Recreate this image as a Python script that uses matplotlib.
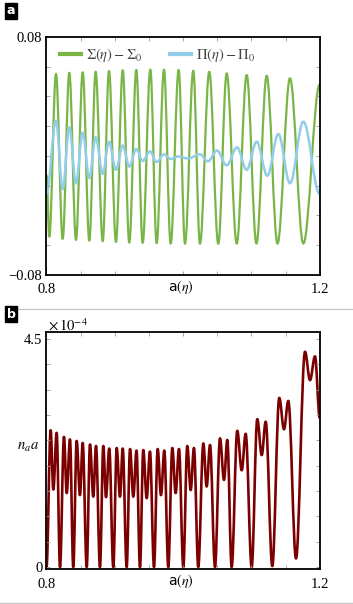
import matplotlib
matplotlib.use('Agg')
import matplotlib.pyplot as plt
from matplotlib.path import Path
from matplotlib.patches import PathPatch
from matplotlib.lines import Line2D

plt.rcParams['font.family'] = ['Liberation Serif', 'DejaVu Serif']
plt.rcParams['mathtext.fontset'] = 'stix'

# panel a: extrema (a, value)
sigma_a = [0.8000, 0.8041, 0.8139, 0.8237, 0.8334, 0.8432, 0.8530, 0.8627, 0.8720,
           0.8823, 0.8915, 0.9017, 0.9116, 0.9212, 0.9315, 0.9408, 0.9520, 0.9613,
           0.9720, 0.9818, 0.9935, 1.0028, 1.0149, 1.0247, 1.0383, 1.0515, 1.0638,
           1.0785, 1.0931, 1.1074, 1.1224, 1.1382, 1.1565, 1.1760, 1.2000]
sigma_v = [-0.013, -0.0542, 0.0550, -0.0557, 0.0558, -0.0564, 0.0561, -0.0569, 0.0565,
           -0.0573, 0.0570, -0.0578, 0.0575, -0.0582, 0.0577, -0.0584, 0.0579, -0.0586,
           0.0579, -0.0589, 0.0577, -0.0590, 0.0572, -0.0590, 0.0565, -0.0590, 0.0554,
           -0.0589, 0.0543, -0.0589, 0.0538, -0.0589, 0.0521, -0.0589, 0.0478]

pi_a = [0.8000, 0.8139, 0.8237, 0.8334, 0.8432, 0.8530, 0.8627, 0.8720, 0.8823,
        0.8915, 0.9017, 0.9116, 0.9212, 0.9315, 0.9408, 0.9515, 0.9610, 0.9720,
        0.9818, 0.9925, 1.0072, 1.0247, 1.0364, 1.0496, 1.0638, 1.0789, 1.0931,
        1.1077, 1.1233, 1.1394, 1.1565, 1.1760, 1.2000]
pi_v = [-0.0255, 0.0236, -0.0224, 0.0192, -0.0184, 0.0156, -0.0150, 0.0125, -0.0121,
        0.0095, -0.0094, 0.0069, -0.0072, 0.0046, -0.0034, 0.0030, -0.0041, 0.0010,
        -0.0021, -0.0004, -0.0017, 0.0010, -0.0037, 0.0036, -0.0064, 0.0057, -0.0094,
        0.0095, -0.0133, 0.0147, -0.0184, 0.0230, -0.0256]

# panel b: extrema of n_a a, in units of 1e-4
na_a = [0.8000, 0.8061, 0.8100, 0.8149, 0.8198, 0.8256, 0.8296, 0.8344, 0.8392,
        0.8442, 0.8490, 0.8530, 0.8589, 0.8637, 0.8685, 0.8725, 0.8783, 0.8832,
        0.8871, 0.8919, 0.8978, 0.9028, 0.9076, 0.9116, 0.9174, 0.9223, 0.9271,
        0.9318, 0.9369, 0.9417, 0.9467, 0.9515, 0.9574, 0.9628, 0.9676, 0.9725,
        0.9783, 0.9842, 0.9891, 0.9940, 1.0003, 1.0061, 1.0111, 1.0159, 1.0222,
        1.0296, 1.0345, 1.0394, 1.0467, 1.0540, 1.0599, 1.0647, 1.0711, 1.0793,
        1.0858, 1.0916, 1.1004, 1.1086, 1.1151, 1.1209, 1.1306, 1.1408, 1.1477,
        1.1540, 1.1653, 1.1785, 1.1858, 1.1931, 1.2000]
na_v = [0.00, 2.70, 1.53, 2.65, 0.00, 2.57, 1.46, 2.52, 0.00,
        2.49, 1.42, 2.45, 0.00, 2.42, 1.39, 2.39, 0.00, 2.39,
        1.38, 2.34, 0.00, 2.35, 1.39, 2.34, 0.00, 2.33, 1.39,
        2.30, 0.00, 2.31, 1.36, 2.28, 0.00, 2.33, 1.42, 2.30,
        0.00, 2.35, 1.46, 2.33, 0.00, 2.39, 1.52, 2.35, 0.00,
        2.44, 1.59, 2.41, 0.00, 2.54, 1.72, 2.51, 0.00, 2.69,
        1.91, 2.63, 0.00, 2.92, 2.21, 2.87, 0.02, 3.34, 2.72,
        3.28, 0.17, 4.25, 3.69, 4.16, 2.95]

GREEN = '#7ab547'
BLUE = '#92cdea'
RED = '#7d0000'
K = 0.363  # bezier handle, close to a half cosine between extrema


def smooth_path(xs, ys):
    verts = [(xs[0], ys[0])]
    codes = [Path.MOVETO]
    for i in range(1, len(xs)):
        dx = xs[i] - xs[i - 1]
        verts += [(xs[i - 1] + K * dx, ys[i - 1]), (xs[i] - K * dx, ys[i]), (xs[i], ys[i])]
        codes += [Path.CURVE4] * 3
    return Path(verts, codes)


def frame(ax, yticks, ylabels):
    ax.set_xlim(0.8, 1.2)
    xt = [0.8 + 0.05 * i for i in range(9)]
    ax.set_xticks(xt)
    ax.set_xticklabels(['0.8'] + [''] * 7 + ['1.2'])
    ax.set_yticks(yticks)
    ax.set_yticklabels(ylabels)
    ax.tick_params(direction='in', length=3, width=0.6, color='#9a9a9a',
                   top=True, right=True, labelsize=10.5, pad=3)
    ax.tick_params(axis='x', pad=6)
    for s in ax.spines.values():
        s.set_linewidth(1.3)
        s.set_color('black')
    ax.text(0.49, -0.05, r'a$(\eta)$', transform=ax.transAxes, family='DejaVu Sans',
            ha='center', va='center', fontsize=10)


fig = plt.figure(figsize=(3.53, 6.04), dpi=100)

ax1 = fig.add_axes([0.1317, 0.5447, 0.774, 0.3945])
ax1.add_patch(PathPatch(smooth_path(sigma_a, sigma_v), fill=False, edgecolor=GREEN,
                        lw=1.6, joinstyle='round', capstyle='round'))
ax1.add_patch(PathPatch(smooth_path(pi_a, pi_v), fill=False, edgecolor=BLUE,
                        lw=1.8, joinstyle='round', capstyle='round'))
ax1.set_ylim(-0.08, 0.08)
yt1 = [-0.08 + 0.02 * i for i in range(9)]
frame(ax1, yt1, ['\u22120.08'] + [''] * 7 + ['0.08'])
handles = [Line2D([], [], color=GREEN, lw=3), Line2D([], [], color=BLUE, lw=3)]
ax1.legend(handles, [r'$\Sigma(\eta)-\Sigma_0$', r'$\Pi(\eta)-\Pi_0$'],
           loc='upper left', bbox_to_anchor=(0.0, 1.015), ncol=2, frameon=False,
           fontsize=10.5, handlelength=1.45, handletextpad=0.35, columnspacing=1.9,
           labelcolor='#444444')

ax2 = fig.add_axes([0.1317, 0.0574, 0.774, 0.3929])
ax2.add_patch(PathPatch(smooth_path(na_a, na_v), fill=False, edgecolor=RED,
                        lw=1.9, joinstyle='round', capstyle='round'))
ax2.set_ylim(-0.045, 4.64)
yt2 = [0.5 * i for i in range(10)]
frame(ax2, yt2, ['0'] + [''] * 8 + ['4.5'])

fig.text(48 / 353, 1 - 325 / 604, r'$\times\,10^{-4}$', ha='left', va='center', fontsize=10.5)
fig.text(28 / 353, 1 - 447 / 604, r'$n_a a$', ha='center', va='center', fontsize=10.5)

# panel letters and separators
for lab, y in [('a', 11), ('b', 314)]:
    fig.text(11 / 353, 1 - y / 604, lab, ha='center', va='center', color='white',
             fontsize=9, fontweight='bold', family='DejaVu Sans',
             bbox=dict(boxstyle='square,pad=0.12', fc='black', ec='black'))
fig.add_artist(Line2D([18 / 353, 1], [1 - 309.3 / 604] * 2, color='#c4c4c4', lw=0.9))
fig.add_artist(Line2D([0, 1], [1 - 602.5 / 604] * 2, color='#c4c4c4', lw=0.9))

fig.savefig('out.png', dpi=100)
